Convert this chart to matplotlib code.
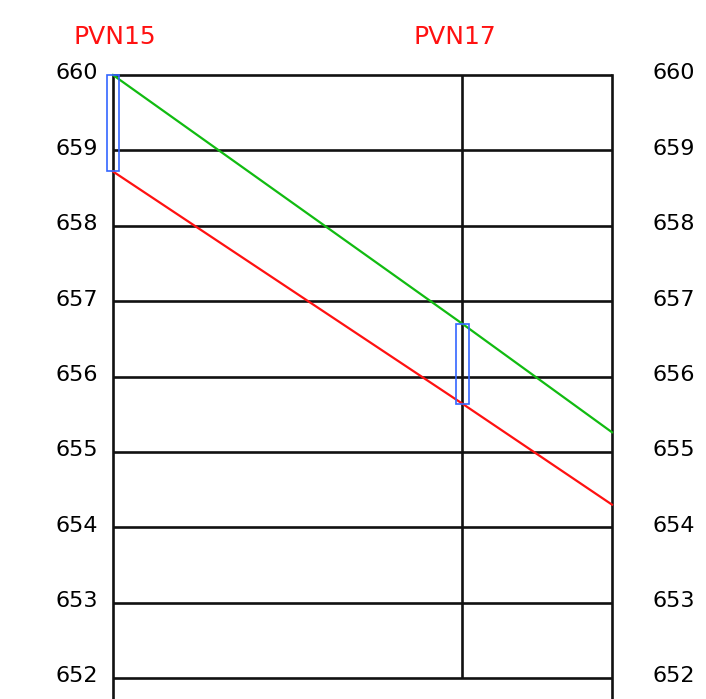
import matplotlib
matplotlib.use("Agg")
import matplotlib.pyplot as plt
from matplotlib.patches import Rectangle
import matplotlib.transforms as mtransforms

# Data
stations = ["PVN15", "PVN17"]
station_x = [0, 70]
x_end = 100
green_levels = [660.0, 656.70, 655.26]   # at PVN15, PVN17, end
red_levels = [658.72, 655.64, 654.30]
level_x = [0, 70, 100]
y_ticks = [652, 653, 654, 655, 656, 657, 658, 659, 660]

fig = plt.figure(figsize=(7.06, 6.99), dpi=100)
ax = fig.add_axes([113 / 706, 0.0, (612 - 113) / 706, 1 - 75 / 699])
ax.set_xlim(0, x_end)
ax.set_ylim(652 - 21 / 75.4, 660)

grid_col = "#111111"
for y in y_ticks:
    ax.plot([0, x_end], [y, y], color=grid_col, lw=1.9, solid_capstyle="butt", zorder=1,
            clip_on=False)
# vertical line at PVN17
ax.plot([station_x[1], station_x[1]], [y_ticks[0], y_ticks[-1]], color=grid_col, lw=1.9,
        solid_capstyle="butt", zorder=1, clip_on=False)

for s in ["top", "bottom"]:
    ax.spines[s].set_visible(False)
for s in ["left", "right"]:
    ax.spines[s].set_linewidth(1.9)
    ax.spines[s].set_color(grid_col)
ax.set_xticks([])
ax.set_yticks([])

ax.plot(level_x, green_levels, color="#11bb11", lw=1.6, zorder=3, clip_on=False)
ax.plot(level_x, red_levels, color="#ff1111", lw=1.6, zorder=3, clip_on=False)

# blue boxes spanning between the two levels at each station (12.7 px wide)
px = x_end / (612 - 113)
for i, sx in enumerate(station_x):
    lo, hi = red_levels[i], green_levels[i]
    ax.add_patch(Rectangle((sx - 6.4 * px, lo), 12.8 * px, hi - lo, fill=False,
                           edgecolor="#3366ff", lw=1.2, zorder=4, clip_on=False))

# tick labels
for y in y_ticks:
    ax.text(-15 * px, y + 0.02, str(y), ha="right", va="center", fontsize=16, color="black",
            clip_on=False)
    ax.text(x_end + 40 * px, y + 0.02, str(y), ha="left", va="center", fontsize=16,
            color="black", clip_on=False)

# station names
label_offsets = [-40, -49]
for name, sx, off in zip(stations, station_x, label_offsets):
    trans = mtransforms.blended_transform_factory(ax.transData, fig.transFigure)
    ax.text(sx + off * px, 1 - 37 / 699, name, ha="left", va="center", fontsize=18,
            color="#ff1111", transform=trans, clip_on=False)

fig.savefig("out.png", dpi=100)
